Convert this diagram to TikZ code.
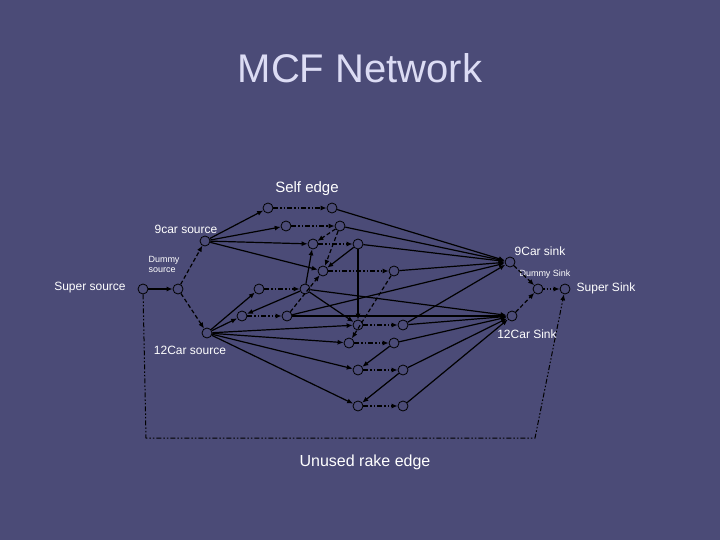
\documentclass[tikz,border=0pt]{standalone}
\usepackage{fontspec}
\setmainfont{Liberation Sans}
\usetikzlibrary{arrows.meta}
\definecolor{bgc}{HTML}{4B4B77}
\definecolor{ttl}{HTML}{DCDCF4}
\begin{document}
\begin{tikzpicture}[x=1pt,y=-1pt,
 v/.style={circle,draw=black,line width=0.8pt,minimum size=10pt,inner sep=0pt},
 e/.style={-{Latex[length=6pt,width=5pt]},line width=1.2pt,black},
 dd/.style={e,dash pattern=on 5pt off 2pt on 1.5pt off 2pt on 1.5pt off 2pt},
 dsh/.style={e,dash pattern=on 4pt off 2.5pt},
 lab/.style={text=white,font=\fontsize{12}{12}\selectfont,inner sep=0pt}]
\fill[bgc] (0,0) rectangle (720,540);
\useasboundingbox (0,0) rectangle (720,540);
\node[text=ttl,font=\fontsize{40}{40}\selectfont] (title) at (360,68) {MCF Network};
% nodes
\node[v] (ss) at (143,289) {};
\node[v] (ds) at (178,289) {};
\node[v] (s9) at (205,241) {};
\node[v] (s12) at (207,333) {};
\node[v] (t9) at (510,262) {};
\node[v] (dt) at (538,289) {};
\node[v] (st) at (565,289) {};
\node[v] (t12) at (512,316) {};
\foreach \n/\x/\y/\X in {p1/268/208/332,p2/286/226/340,p3/313/244/358,p4/323/271/394,p5/259/289/305,
 q1/242/316/287,q2/358/325/403,q3/349/343/394,q4/358/370/403,q5/358/406/403}{
 \node[v] (\n a) at (\x,\y) {};
 \node[v] (\n b) at (\X,\y) {};
 \draw[dd] (\n a) -- (\n b);}
% labels
\node[lab,font=\fontsize{15}{15}\selectfont] (l1) at (307,189) {Self edge};
\node[lab] (l2) at (186,229) {9car source};
\node[lab,font=\fontsize{9}{10}\selectfont,align=left] (l3) at (164,264) {Dummy\\source};
\node[lab] (l4) at (90,288) {Super source};
\node[lab] (l5) at (190,350) {12Car source};
\node[lab] (l6) at (540,251) {9Car sink};
\node[lab,font=\fontsize{9}{9}\selectfont] (l7) at (545,274) {Dummy Sink};
\node[lab] (l8) at (606,288) {Super Sink};
\node[lab] (l9) at (527,334) {12Car Sink};
\node[lab,font=\fontsize{16}{16}\selectfont] (l10) at (365,462) {Unused rake edge};
% source side
\draw[e] (ss) -- (ds);
\draw[dsh] (ds) -- (s9);
\draw[dsh] (ds) -- (s12);
\foreach \t in {p1a,p2a,p3a,p4a} \draw[e] (s9) -- (\t);
\foreach \t in {q1a,p5a,q2a,q3a,q4a,q5a} \draw[e] (s12) -- (\t);
% to sinks
\foreach \t in {p1b,p2b,p3b,p4b,q1b,q2b} \draw[e] (\t) -- (t9);
\foreach \t in {p5b,q1b,q2b,q3b,q4b,q5b} \draw[e] (\t) -- (t12);
% cross links
\draw[dsh] (p2b) -- (p3a);
\draw[dsh] (p2b) -- (p4a);
\draw[e] (p5b) -- (p3a);
\draw[e] (p5b) -- (q1a);
\draw[e] (p5b) -- (q2a);
\draw[e] (p3b) -- (p4a);
\draw[e] (p3b) -- (q2a);
\draw[dsh] (q1b) -- (p4a);
\draw[dsh] (p4b) -- (q3a);
\draw[e] (q3b) -- (q4a);
\draw[e] (q4b) -- (q5a);
% sink side
\draw[dsh] (t9) -- (dt);
\draw[dsh] (t12) -- (dt);
\draw[e,dotted] (dt) -- (st);
% unused rake edge
\coordinate (c1) at (146,438);
\coordinate (c2) at (535,438);
\draw[dd,line width=1pt] (ss) -- (c1) -- (c2) -- (st);
\end{tikzpicture}
\end{document}
